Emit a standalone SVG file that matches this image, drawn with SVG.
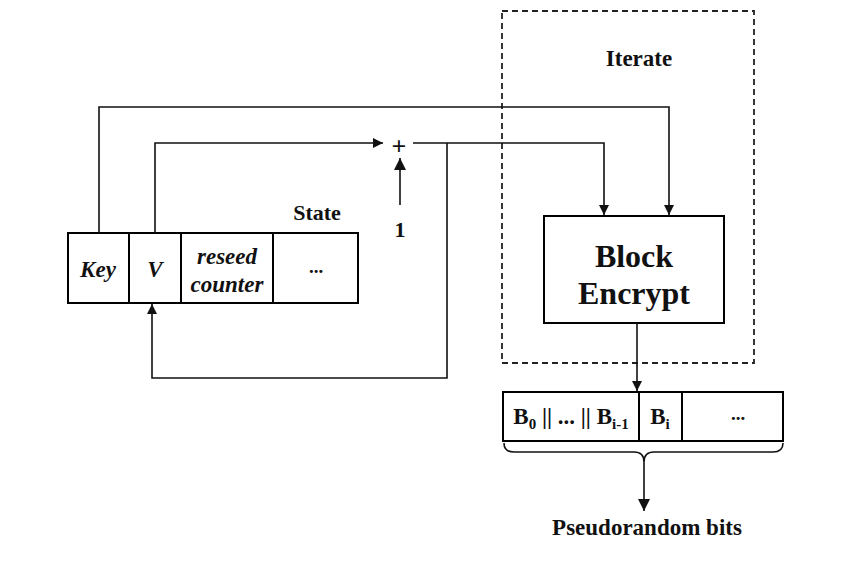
<svg xmlns="http://www.w3.org/2000/svg" width="851" height="567" viewBox="0 0 851 567">
<defs>
<style>
.b{fill:none;stroke:#000;stroke-width:2}
.c{fill:none;stroke:#111;stroke-width:1.6}
.t{font-family:"Liberation Serif",serif;font-weight:bold;fill:#111;text-anchor:middle}
.i{font-style:italic}
</style>
<marker id="ah" viewBox="0 0 10 10" refX="10" refY="5" markerWidth="11" markerHeight="10" markerUnits="userSpaceOnUse" orient="auto">
<path d="M0,0 L10,5 L0,10 Z" fill="#111"/>
</marker>
<marker id="ahb" viewBox="0 0 10 10" refX="10" refY="5" markerWidth="12" markerHeight="12" markerUnits="userSpaceOnUse" orient="auto">
<path d="M0,0 L10,5 L0,10 Z" fill="#111"/>
</marker>
</defs>
<rect width="851" height="567" fill="#fff"/>
<g id="iterate">
<rect x="502" y="11" width="252" height="352" fill="none" stroke="#222" stroke-width="1.8" stroke-dasharray="6,4"/>
<text class="t" x="639" y="66" font-size="23">Iterate</text>
</g>
<g id="state">
<rect class="b" x="68" y="233" width="290" height="70"/>
<line class="b" x1="129" y1="233" x2="129" y2="303"/>
<line class="b" x1="181" y1="233" x2="181" y2="303"/>
<line class="b" x1="273" y1="233" x2="273" y2="303"/>
<text class="t i" x="98" y="277" font-size="23">Key</text>
<text class="t i" x="155" y="277" font-size="23">V</text>
<text class="t i" x="227" y="264" font-size="23">reseed</text>
<text class="t i" x="227" y="292" font-size="23">counter</text>
<text class="t" x="316" y="273" font-size="19">...</text>
<text class="t" x="317" y="220" font-size="22">State</text>
</g>
<g id="adder">
<text class="t" x="399" y="155" font-size="26" font-weight="normal">+</text>
<text class="t" x="400" y="237" font-size="22">1</text>
</g>
<g id="block-encrypt">
<rect class="b" x="544" y="216" width="180" height="107" fill="#fff"/>
<text class="t" x="634" y="267" font-size="32">Block</text>
<text class="t" x="634" y="304" font-size="32">Encrypt</text>
</g>
<g id="output">
<rect class="b" x="503" y="392" width="280" height="49"/>
<line class="b" x1="639" y1="392" x2="639" y2="441"/>
<line class="b" x1="682" y1="392" x2="682" y2="441"/>
<text class="t" x="571" y="424" font-size="23">B<tspan font-size="15" dy="5">0</tspan><tspan dy="-5"> || ... || B</tspan><tspan font-size="15" dy="5">i-1</tspan></text>
<text class="t" x="660" y="424" font-size="23">B<tspan font-size="15" dy="5">i</tspan></text>
<text class="t" x="738" y="420" font-size="19">...</text>
<text class="t" x="647" y="535" font-size="23">Pseudorandom bits</text>
</g>
<g id="connectors">
<polyline class="c" points="99,233 99,107 669,107 669,215" marker-end="url(#ah)"/>
<polyline class="c" points="155,233 155,143 383,143" marker-end="url(#ah)"/>
<polyline class="c" points="413,143 604,143 604,215" marker-end="url(#ah)"/>
<polyline class="c" points="447,143 447,378 152,378 152,304" marker-end="url(#ah)"/>
<line class="c" x1="400" y1="205" x2="400" y2="158" stroke-width="2" marker-end="url(#ahb)"/>
<line class="c" x1="637" y1="323" x2="637" y2="391" marker-end="url(#ah)"/>
<path class="c" d="M504,443 Q504,452 514,452 L634,452 Q644,452 644,462 Q644,452 654,452 L773,452 Q783,452 783,443"/>
<line class="c" x1="644" y1="462" x2="644" y2="511" stroke-width="2" marker-end="url(#ahb)"/>
</g>
</svg>
